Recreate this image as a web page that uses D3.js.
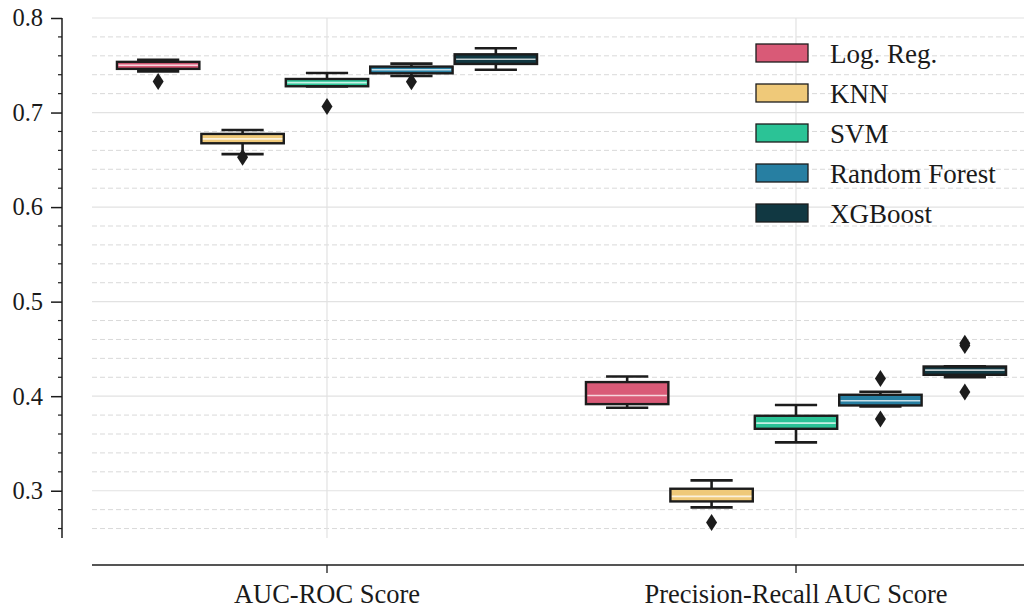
<!DOCTYPE html>
<html>
<head>
<meta charset="utf-8">
<script src="https://cdn.jsdelivr.net/npm/d3@7"></script>
<style>
  html, body { margin: 0; padding: 0; background: #ffffff; }
  svg { display: block; font-family: "Liberation Serif", "DejaVu Serif", serif; }
</style>
</head>
<body>
<svg id="chart" width="1024" height="612"></svg>
<script>
// Metrics on the x axis and the models compared within each metric
const metrics = ["AUC-ROC Score", "Precision-Recall AUC Score"];
const models = ["Log. Reg.", "KNN", "SVM", "Random Forest", "XGBoost"];
const modelColors = ["#d95a77", "#efc979", "#2bc396", "#277fa2", "#113842"];

// Five-number summaries per metric: [lower whisker, Q1, median, Q3, upper whisker]
const logRegStats = [[0.7435, 0.7462, 0.7500, 0.7536, 0.7558], [0.3877, 0.3916, 0.4007, 0.4149, 0.4208]];
const knnStats    = [[0.6560, 0.6675, 0.6722, 0.6774, 0.6816], [0.2824, 0.2887, 0.2940, 0.3021, 0.3109]];
const svmStats    = [[0.7276, 0.7278, 0.7316, 0.7355, 0.7419], [0.3511, 0.3655, 0.3715, 0.3793, 0.3906]];
const rfStats     = [[0.7387, 0.7415, 0.7452, 0.7486, 0.7517], [0.3891, 0.3902, 0.3951, 0.4015, 0.4047]];
const xgbStats    = [[0.7453, 0.7514, 0.7563, 0.7616, 0.7680], [0.4202, 0.4226, 0.4276, 0.4314, 0.4316]];

// Points beyond the whiskers, per metric
const logRegOutliers = [[0.7328], []];
const knnOutliers    = [[0.6527], [0.2665]];
const svmOutliers    = [[0.7063], []];
const rfOutliers     = [[0.7327], [0.4187, 0.3758]];
const xgbOutliers    = [[], [0.4560, 0.4535, 0.4044]];

// Axis ticks
const majorTicks = [0.3, 0.4, 0.5, 0.6, 0.7, 0.8];
const minorTicks = d3.range(0.26, 0.801, 0.02).map(v => +v.toFixed(2));

const allStats = [logRegStats, knnStats, svmStats, rfStats, xgbStats];
const allOutliers = [logRegOutliers, knnOutliers, svmOutliers, rfOutliers, xgbOutliers];

const boxes = [];
metrics.forEach((metric, mi) => {
  models.forEach((model, hi) => {
    const s = allStats[hi][mi];
    boxes.push({
      metric, model, color: modelColors[hi],
      lo: s[0], q1: s[1], med: s[2], q3: s[3], hi: s[4],
      outliers: allOutliers[hi][mi]
    });
  });
});

const svg = d3.select("#chart");
const ink = "#1c1c1c";
const textInk = "#1a1a1a";

const y = d3.scaleLinear().domain([0.25, 0.8]).range([538, 18]);
const x = d3.scaleBand().domain(metrics).range([92.5, 1030.5]).paddingInner(0).paddingOuter(0);
const xHue = d3.scaleBand().domain(models)
  .range([0, x.bandwidth() * 0.9]);
const groupStart = m => x(m) + x.bandwidth() * 0.05;

const minorOnly = minorTicks.filter(v => !majorTicks.some(t => Math.abs(t - v) < 1e-6));

// Grid: solid at major ticks, dashed at minor ticks
const grid = svg.append("g");
grid.selectAll("line.minor")
  .data(minorOnly)
  .join("line")
  .attr("x1", 92).attr("x2", 1024)
  .attr("y1", d => y(d)).attr("y2", d => y(d))
  .attr("stroke", "#d9d9d9").attr("stroke-width", 1)
  .attr("stroke-dasharray", "5,3");
grid.selectAll("line.major")
  .data(majorTicks)
  .join("line")
  .attr("x1", 92).attr("x2", 1024)
  .attr("y1", d => y(d)).attr("y2", d => y(d))
  .attr("stroke", "#e2e2e2").attr("stroke-width", 1.2);
grid.selectAll("line.vert")
  .data(metrics)
  .join("line")
  .attr("x1", d => x(d) + x.bandwidth() / 2).attr("x2", d => x(d) + x.bandwidth() / 2)
  .attr("y1", 18).attr("y2", 538)
  .attr("stroke", "#e2e2e2").attr("stroke-width", 1.2);

// Boxes
const bw = xHue.bandwidth();
const capW = bw * 0.5;
const g = svg.append("g");
boxes.forEach(b => {
  const cx = groupStart(b.metric) + xHue(b.model) + bw / 2;
  const bg = g.append("g");
  // whiskers
  bg.append("line").attr("x1", cx).attr("x2", cx)
    .attr("y1", y(b.q3)).attr("y2", y(b.hi))
    .attr("stroke", ink).attr("stroke-width", 2.6);
  bg.append("line").attr("x1", cx).attr("x2", cx)
    .attr("y1", y(b.q1)).attr("y2", y(b.lo))
    .attr("stroke", ink).attr("stroke-width", 2.6);
  // box
  bg.append("rect")
    .attr("x", cx - bw / 2 + 1).attr("width", bw - 2)
    .attr("y", y(b.q3)).attr("height", Math.max(0.5, y(b.q1) - y(b.q3)))
    .attr("fill", b.color).attr("stroke", ink).attr("stroke-width", 2.4);
  // median
  bg.append("line")
    .attr("x1", cx - bw / 2 + 2.5).attr("x2", cx + bw / 2 - 2.5)
    .attr("y1", y(b.med)).attr("y2", y(b.med))
    .attr("stroke", "#ffffff").attr("stroke-opacity", 0.75).attr("stroke-width", 1.6);
  // caps
  [b.lo, b.hi].forEach(v => {
    bg.append("line")
      .attr("x1", cx - capW / 2).attr("x2", cx + capW / 2)
      .attr("y1", y(v)).attr("y2", y(v))
      .attr("stroke", ink).attr("stroke-width", 2.6);
  });
  // outliers as thin diamonds
  bg.selectAll("path.out").data(b.outliers).join("path")
    .attr("d", d => {
      const py = y(d);
      return `M${cx},${py - 8.5}L${cx + 5.5},${py}L${cx},${py + 8.5}L${cx - 5.5},${py}Z`;
    })
    .attr("fill", ink);
});

// Y axis (offset spine) with major and minor ticks
const yAxis = svg.append("g").attr("transform", "translate(62,0)");
yAxis.call(d3.axisLeft(y).tickValues(majorTicks).tickFormat(d3.format(".1f")).tickSize(11).tickPadding(8))
  .call(a => a.select(".domain").attr("d", `M0,${y(0.8)}V${y(0.25)}`).attr("stroke", ink).attr("stroke-width", 1.5))
  .call(a => a.selectAll(".tick line").attr("stroke", ink).attr("stroke-width", 1.5))
  .call(a => a.selectAll(".tick text").attr("font-size", 24.5).attr("fill", textInk)
    .attr("font-family", "Liberation Serif, serif"));
yAxis.selectAll("line.minor")
  .data(minorOnly)
  .join("line")
  .attr("x1", -4).attr("x2", 0)
  .attr("y1", d => y(d)).attr("y2", d => y(d))
  .attr("stroke", ink).attr("stroke-width", 1.2);

// X axis
const xAxis = svg.append("g").attr("transform", "translate(0,565)");
xAxis.call(d3.axisBottom(x).tickSize(8).tickPadding(11))
  .call(a => a.select(".domain").attr("d", "M92,0H1024").attr("stroke", ink).attr("stroke-width", 1.6))
  .call(a => a.selectAll(".tick line").attr("stroke", ink).attr("stroke-width", 1.3))
  .call(a => a.selectAll(".tick text").attr("font-size", 26.5).attr("fill", textInk)
    .attr("font-family", "Liberation Serif, serif"));

// Legend
const legend = svg.append("g").attr("transform", "translate(756,44)");
models.forEach((m, i) => {
  const row = legend.append("g").attr("transform", `translate(0,${i * 40})`);
  row.append("rect").attr("width", 52).attr("height", 18)
    .attr("fill", modelColors[i]).attr("stroke", ink).attr("stroke-width", 1.3);
  row.append("text").attr("x", 74).attr("y", 9).attr("dy", "0.36em")
    .attr("font-size", 27).attr("fill", textInk).text(m);
});
</script>
</body>
</html>
